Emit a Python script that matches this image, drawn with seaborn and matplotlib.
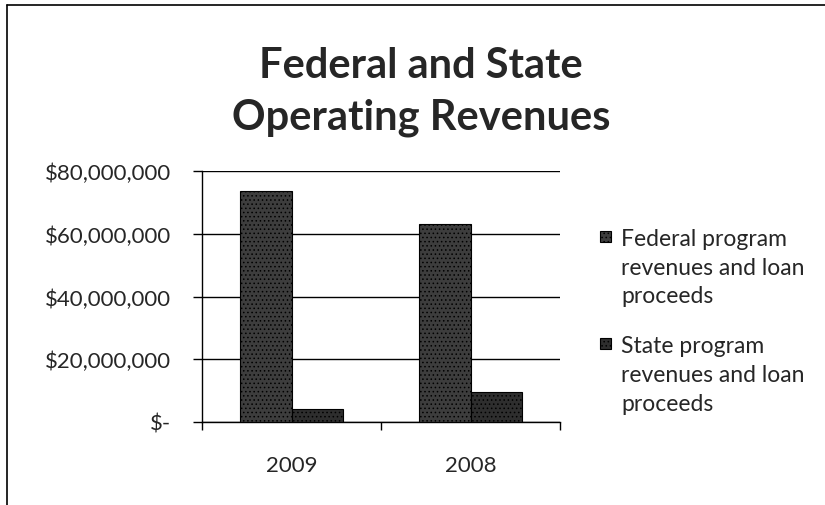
import numpy as np
import pandas as pd
import seaborn as sns
import matplotlib.pyplot as plt
from matplotlib.lines import Line2D
from matplotlib.patches import Rectangle
from matplotlib.legend_handler import HandlerPatch
from matplotlib.ticker import FuncFormatter

years = ['2009', '2008']
federal = [73.6e6, 63.2e6]
state = [4.1e6, 9.5e6]
series = ['Federal program\nrevenues and loan\nproceeds',
          'State program\nrevenues and loan\nproceeds']
y_ticks = [0, 20e6, 40e6, 60e6, 80e6]

df = pd.DataFrame({
    'year': years * 2,
    'value': federal + state,
    'series': [series[0]] * 2 + [series[1]] * 2,
})

sns.set_style('white')
plt.rcParams['font.family'] = ['Lato', 'DejaVu Sans']
plt.rcParams['hatch.color'] = '#bdbdbd'
plt.rcParams['hatch.linewidth'] = 0.6

fig = plt.figure(figsize=(8.25, 5.06), dpi=100)
ax = fig.add_axes([202 / 825, 1 - 423 / 506, 358 / 825, 251 / 506])

sns.barplot(data=df, x='year', y='value', hue='series', order=years,
            hue_order=series, palette=['#3d3d3d', '#2e2e2e'],
            width=0.575, saturation=1, ax=ax, zorder=3)
for patch in ax.patches:
    patch.set_edgecolor('black')
    patch.set_linewidth(0.8)
    patch.set_hatch('....')

ax.set_ylim(0, 80e6)
ax.set_xlim(-0.5, 1.5)
ax.set_yticks(y_ticks)
ax.yaxis.set_major_formatter(FuncFormatter(
    lambda v, p: '$-' if v == 0 else '${:,.0f}'.format(v)))
ax.grid(axis='y', color='black', linewidth=1.0, zorder=0)
ax.set_axisbelow(True)
for s in ['top', 'right']:
    ax.spines[s].set_visible(False)
for s in ['left', 'bottom']:
    ax.spines[s].set_color('black')
    ax.spines[s].set_linewidth(1.0)

ax.tick_params(axis='y', which='major', left=True, length=6.5, width=1,
               color='black', labelsize=16, pad=16)
ax.tick_params(axis='x', which='major', bottom=False, labelsize=16, pad=20)
ax.set_xticks([-0.5, 0.5, 1.5], minor=True)
ax.tick_params(axis='x', which='minor', bottom=True, length=6, width=1,
               color='black')
ax.set_xlabel('')
ax.set_ylabel('')


def top_square(legend, orig_handle, xdescent, ydescent, width, height, fontsize):
    # put the legend square next to the first line of the label
    return Rectangle((-xdescent, -ydescent + 23), width, width)


h, l = ax.get_legend_handles_labels()
leg = ax.legend(h, l, loc='upper left', bbox_to_anchor=(600 / 825, 1 - 229 / 506),
                bbox_transform=fig.transFigure, frameon=False, fontsize=16.5,
                handlelength=0.48, handleheight=0.48, handletextpad=0.44,
                labelspacing=1.27, borderpad=0, borderaxespad=0,
                handler_map={Rectangle: HandlerPatch(patch_func=top_square)})
for t in leg.get_texts():
    t.set_linespacing(1.45)

fig.text(0.51, 1 - 92 / 506, 'Federal and State\nOperating Revenues',
         ha='center', va='center', fontsize=30, fontweight='bold',
         linespacing=1.42)

fig.add_artist(Line2D([7 / 825, 7 / 825], [0, 1 - 6 / 506], color='black',
                      linewidth=1.2))
fig.add_artist(Line2D([7 / 825, 1], [1 - 6 / 506, 1 - 6 / 506],
                      color='black', linewidth=1.2))

fig.savefig('out.png', dpi=100)
